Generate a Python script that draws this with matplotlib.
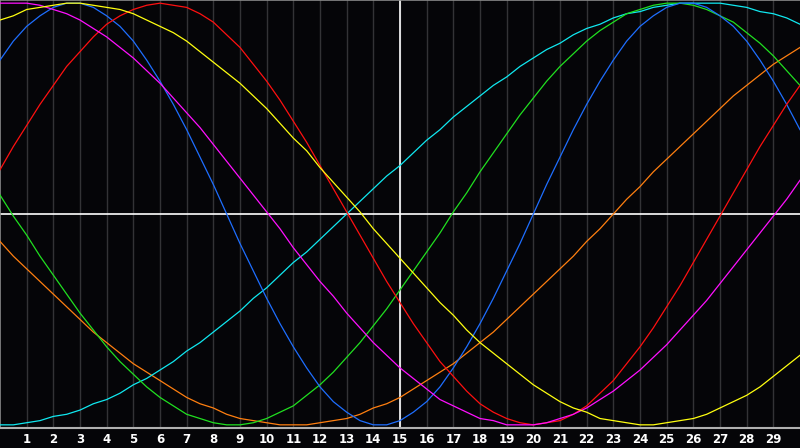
import matplotlib
matplotlib.use("Agg")
import matplotlib.pyplot as plt

# readings every half day, day 0 .. day 30
days = [d / 2 for d in range(61)]
tick_days = list(range(1, 30))

physical = [0.73, 0.82, 0.89, 0.94, 0.98, 1.00, 1.00, 0.98, 0.94, 0.89, 0.82, 0.73, 0.63, 0.52, 0.40, 0.27, 0.14, 0.00,
            -0.14, -0.27, -0.40, -0.52, -0.63, -0.73, -0.82, -0.89, -0.94, -0.98, -1.00, -1.00, -0.98, -0.94, -0.89,
            -0.82, -0.73, -0.63, -0.52, -0.40, -0.27, -0.14, 0.00, 0.14, 0.27, 0.40, 0.52, 0.63, 0.73, 0.82, 0.89,
            0.94, 0.98, 1.00, 1.00, 0.98, 0.94, 0.89, 0.82, 0.73, 0.63, 0.52, 0.40]
emotional = [0.21, 0.32, 0.42, 0.52, 0.61, 0.70, 0.77, 0.84, 0.90, 0.94, 0.97, 0.99, 1.00, 0.99, 0.98, 0.95, 0.91, 0.85,
             0.79, 0.71, 0.63, 0.54, 0.44, 0.34, 0.23, 0.12, 0.01, -0.10, -0.21, -0.32, -0.42, -0.52, -0.61, -0.70,
             -0.77, -0.84, -0.90, -0.94, -0.97, -0.99, -1.00, -0.99, -0.98, -0.95, -0.91, -0.85, -0.79, -0.71, -0.63,
             -0.54, -0.44, -0.34, -0.23, -0.12, -0.01, 0.10, 0.21, 0.32, 0.42, 0.52, 0.61]
intellectual = [0.09, -0.01, -0.10, -0.20, -0.29, -0.38, -0.47, -0.55, -0.63, -0.70, -0.76, -0.82, -0.87, -0.91, -0.95,
                -0.97, -0.99, -1.00, -1.00, -0.99, -0.97, -0.94, -0.91, -0.86, -0.81, -0.75, -0.68, -0.61, -0.53,
                -0.45, -0.36, -0.27, -0.18, -0.09, 0.01, 0.10, 0.20, 0.29, 0.38, 0.47, 0.55, 0.63, 0.70, 0.76, 0.82,
                0.87, 0.91, 0.95, 0.97, 0.99, 1.00, 1.00, 0.99, 0.97, 0.94, 0.91, 0.86, 0.81, 0.75, 0.68, 0.61]
intuitive = [1.00, 1.00, 1.00, 0.99, 0.97, 0.95, 0.92, 0.88, 0.84, 0.79, 0.74, 0.68, 0.62, 0.55, 0.48, 0.41, 0.33, 0.25,
             0.17, 0.09, 0.01, -0.07, -0.16, -0.24, -0.32, -0.39, -0.47, -0.54, -0.61, -0.67, -0.73, -0.78, -0.83,
             -0.88, -0.91, -0.94, -0.97, -0.98, -1.00, -1.00, -1.00, -0.99, -0.97, -0.95, -0.92, -0.88, -0.84, -0.79,
             -0.74, -0.68, -0.62, -0.55, -0.48, -0.41, -0.33, -0.25, -0.17, -0.09, -0.01, 0.07, 0.16]
aesthetic = [0.92, 0.94, 0.97, 0.98, 0.99, 1.00, 1.00, 0.99, 0.98, 0.97, 0.95, 0.92, 0.89, 0.86, 0.82, 0.77, 0.72, 0.67,
             0.62, 0.56, 0.50, 0.43, 0.36, 0.30, 0.22, 0.15, 0.08, 0.01, -0.07, -0.14, -0.21, -0.28, -0.35, -0.42,
             -0.48, -0.55, -0.61, -0.66, -0.71, -0.76, -0.81, -0.85, -0.89, -0.92, -0.94, -0.97, -0.98, -0.99, -1.00,
             -1.00, -0.99, -0.98, -0.97, -0.95, -0.92, -0.89, -0.86, -0.82, -0.77, -0.72, -0.67]
awareness = [-0.13, -0.20, -0.26, -0.32, -0.38, -0.44, -0.50, -0.56, -0.61, -0.66, -0.71, -0.75, -0.79, -0.83, -0.87,
             -0.90, -0.92, -0.95, -0.97, -0.98, -0.99, -1.00, -1.00, -1.00, -0.99, -0.98, -0.97, -0.95, -0.92, -0.90,
             -0.87, -0.83, -0.79, -0.75, -0.71, -0.66, -0.61, -0.56, -0.50, -0.44, -0.38, -0.32, -0.26, -0.20, -0.13,
             -0.07, 0.00, 0.07, 0.13, 0.20, 0.26, 0.32, 0.38, 0.44, 0.50, 0.56, 0.61, 0.66, 0.71, 0.75, 0.79]
spiritual = [-1.00, -1.00, -0.99, -0.98, -0.96, -0.95, -0.93, -0.90, -0.88, -0.85, -0.81, -0.78, -0.74, -0.70, -0.65,
             -0.61, -0.56, -0.51, -0.46, -0.40, -0.35, -0.29, -0.23, -0.18, -0.12, -0.06, 0.00, 0.06, 0.12, 0.18,
             0.23, 0.29, 0.35, 0.40, 0.46, 0.51, 0.56, 0.61, 0.65, 0.70, 0.74, 0.78, 0.81, 0.85, 0.88, 0.90, 0.93,
             0.95, 0.96, 0.98, 0.99, 1.00, 1.00, 1.00, 1.00, 0.99, 0.98, 0.96, 0.95, 0.93, 0.90]

series = [
  (awareness, "#ff7f10"),
  (spiritual, "#10e8f0"),
  (intellectual, "#20e020"),
  (physical, "#1e6eff"),
  (emotional, "#ff1010"),
  (intuitive, "#ff10ff"),
  (aesthetic, "#ffff10"),
]

fig = plt.figure(figsize=(8, 4.48), dpi=100, facecolor="#050508")
ax = fig.add_axes([0, 20 / 448, 1, 428 / 448])
ax.set_facecolor("#050508")

for d in tick_days:
  ax.axvline(d, color="#333336", lw=1.0, zorder=1)
ax.axvline(15, color="white", lw=1.2, zorder=2)
ax.axhline(0, color="white", lw=1.2, zorder=2)

for values, color in series:
  ax.plot(days, values, color=color, lw=0.9, zorder=3)

ax.set_xlim(0, 30)
ax.set_ylim(-1.015, 1.015)
ax.set_yticks([])
ax.set_xticks(tick_days)
ax.set_xticklabels([str(d) for d in tick_days], color="white",
                   fontsize=8.5, fontweight="bold", family="DejaVu Sans")
ax.tick_params(axis="x", length=0, pad=3.5)

ax.spines["right"].set_visible(False)
for side in ["left", "top"]:
  ax.spines[side].set_color("#8a8a8a")
  ax.spines[side].set_linewidth(1.2)
ax.spines["bottom"].set_color("#b0b0b0")
ax.spines["bottom"].set_linewidth(1.5)

fig.savefig("out.png", dpi=100, facecolor=fig.get_facecolor())
